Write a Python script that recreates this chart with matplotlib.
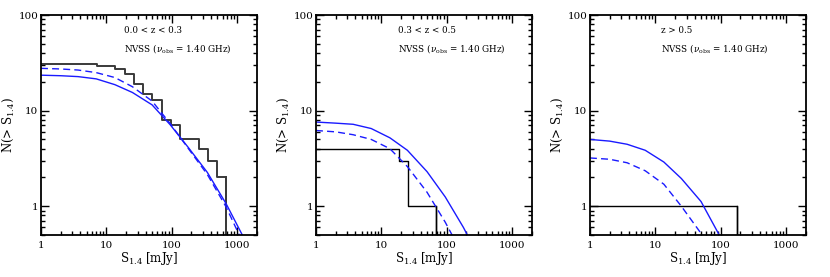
import numpy as np
import matplotlib
matplotlib.use("Agg")
import matplotlib.pyplot as plt
from matplotlib.ticker import LogLocator, FixedLocator, FixedFormatter, NullFormatter

plt.rcParams["font.family"] = ["DejaVu Serif"]
plt.rcParams["mathtext.fontset"] = "dejavuserif"

# ── Data ────────────────────────────────────────────────────────────────────
panel_labels = ["0.0 < z < 0.3", "0.3 < z < 0.5", "z > 0.5"]

# observed cumulative counts (step edges in mJy, counts per step)
obs_edges = [
    [1, 7.2, 13.7, 19.1, 26.3, 36, 50.5, 70, 97, 134, 257, 354, 488, 677],
    [1, 18.5, 25.4, 68],
    [1, 176],
]
obs_counts = [
    [31, 29, 27, 24, 19, 15, 13, 8, 7, 5, 4, 3, 2],
    [4, 3, 1],
    [1],
]

# model curves
s_model = [1, 2, 3.7, 7, 13.5, 25, 50, 95, 180, 350, 680, 1300]
model_solid = [
    [23.5, 23.2, 22.7, 21.5, 18.7, 15.5, 11.5, 7.1, 4.1, 2.26, 1.06, 0.45],
    [7.6, 7.4, 7.2, 6.5, 5.2, 3.85, 2.3, 1.25, 0.6, 0.25, 0.1, 0.04],
    [5.0, 4.8, 4.45, 3.85, 2.9, 1.95, 1.12, 0.5, 0.2, 0.07, 0.02, 0.01],
]
model_dashed = [
    [27.7, 27.3, 26.6, 25.0, 22.2, 17.8, 12.6, 7.3, 4.0, 2.15, 0.98, 0.38],
    [6.2, 6.0, 5.6, 5.0, 4.0, 2.6, 1.4, 0.68, 0.3, 0.12, 0.05, 0.02],
    [3.2, 3.1, 2.85, 2.35, 1.7, 1.0, 0.52, 0.2, 0.08, 0.03, 0.01, 0.005],
]

BLUE = "#1a1aff"

fig = plt.figure(figsize=(8.3, 2.77), dpi=100, facecolor="white")
lefts = [0.0494, 0.3807, 0.7108]
text_x = [0.385, 0.38, 0.33]

for i in range(3):
    ax = fig.add_axes([lefts[i], 0.1516, 0.260, 0.794])
    ax.set_xscale("log")
    ax.set_yscale("log")

    # histogram of observed sources
    edges = obs_edges[i]
    counts = obs_counts[i]
    xs = edges + [edges[-1]]
    ys = counts + [counts[-1], 0.01]
    hist_lw = 1.4 if i == 0 else 1.0
    hist_c = "#3a3a3a" if i == 0 else "black"
    ax.step(xs, ys[:len(xs)], where="post", color=hist_c, lw=hist_lw)
    ax.plot([edges[-1], edges[-1]], [counts[-1], 0.01], color=hist_c, lw=hist_lw)

    ax.plot(s_model, model_solid[i], color=BLUE, lw=1.0)
    ax.plot(s_model, model_dashed[i], color=BLUE, lw=1.0, dashes=(5, 3))

    ax.set_xlim(1, 2000)
    ax.set_ylim(0.5, 100)

    ax.xaxis.set_major_locator(FixedLocator([1, 10, 100, 1000]))
    ax.xaxis.set_major_formatter(FixedFormatter(["1", "10", "100", "1000"]))
    ax.xaxis.set_minor_locator(LogLocator(base=10, subs=np.arange(2, 10), numticks=20))
    ax.xaxis.set_minor_formatter(NullFormatter())
    ax.yaxis.set_major_locator(FixedLocator([1, 10, 100]))
    ax.yaxis.set_major_formatter(FixedFormatter(["1", "10", "100"]))
    ax.yaxis.set_minor_locator(LogLocator(base=10, subs=np.arange(2, 10), numticks=20))
    ax.yaxis.set_minor_formatter(NullFormatter())

    ax.tick_params(which="both", direction="in", top=True, right=True,
                   width=1.0, labelsize=7.5)
    ax.tick_params(which="major", length=6)
    ax.tick_params(which="minor", length=3)
    ax.tick_params(axis="x", which="major", pad=4)
    ax.tick_params(axis="y", which="major", pad=2)
    for sp in ax.spines.values():
        sp.set_linewidth(1.3)

    ax.set_xlabel(r"S$_{1.4}$ [mJy]", fontsize=8.5, labelpad=0)
    ax.set_ylabel(r"N(> S$_{1.4}$)", fontsize=8.5, labelpad=2)

    ax.text(text_x[i], 0.93, panel_labels[i], transform=ax.transAxes,
            fontsize=6.3, va="center", ha="left")
    ax.text(text_x[i], 0.85, r"NVSS ($\nu_{\rm obs}$ = 1.40 GHz)",
            transform=ax.transAxes, fontsize=6.3, va="center", ha="left")

fig.savefig("out.png", dpi=100, facecolor="white")
